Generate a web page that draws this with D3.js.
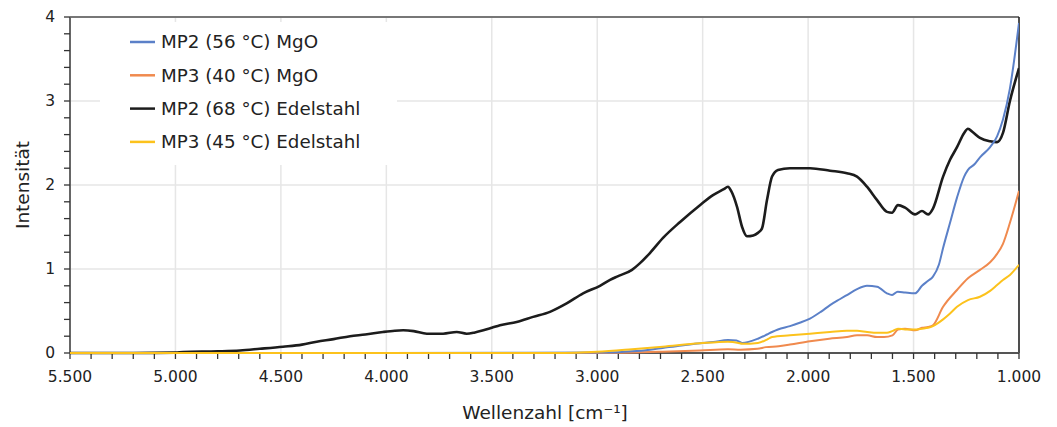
<!DOCTYPE html>
<html>
<head>
<meta charset="utf-8">
<script src="https://cdn.jsdelivr.net/npm/d3@7"></script>
<style>
  html, body { margin: 0; padding: 0; background: #fff; }
  svg { display: block; font-family: "DejaVu Sans", "Noto Sans", sans-serif; }
</style>
</head>
<body>
<svg id="chart" width="1057" height="427"></svg>
<script>
// Wavenumber grids (cm^-1) and intensities for each spectrum
const wnMgO56 = [5500, 4000, 3000, 2900, 2835, 2750, 2690, 2600, 2510, 2450, 2380, 2340, 2313, 2238, 2195, 2171, 2143, 2086, 2040, 1991, 1940, 1896, 1850, 1816, 1768, 1721, 1673, 1626, 1602, 1575, 1540, 1493, 1460, 1431, 1408, 1380, 1360, 1327, 1294, 1260, 1242, 1210, 1185, 1137, 1104, 1076, 1043, 1000];
const valMgO56 = [0, 0, 0.005, 0.01, 0.02, 0.04, 0.06, 0.09, 0.115, 0.13, 0.155, 0.15, 0.12, 0.17, 0.22, 0.25, 0.28, 0.32, 0.36, 0.41, 0.49, 0.57, 0.64, 0.69, 0.76, 0.80, 0.79, 0.71, 0.69, 0.73, 0.72, 0.71, 0.80, 0.86, 0.91, 1.05, 1.25, 1.55, 1.85, 2.10, 2.18, 2.25, 2.33, 2.45, 2.58, 2.78, 3.15, 3.93];

const wnMgO40 = [5500, 3000, 2835, 2690, 2513, 2380, 2320, 2240, 2200, 2140, 2086, 1991, 1900, 1816, 1768, 1720, 1673, 1640, 1600, 1574, 1540, 1493, 1460, 1431, 1408, 1360, 1294, 1242, 1185, 1137, 1104, 1076, 1043, 1000];
const valMgO40 = [0, 0, 0.005, 0.015, 0.03, 0.045, 0.04, 0.05, 0.07, 0.08, 0.10, 0.14, 0.17, 0.19, 0.21, 0.21, 0.19, 0.19, 0.21, 0.28, 0.29, 0.27, 0.30, 0.31, 0.33, 0.55, 0.75, 0.89, 0.99, 1.08, 1.18, 1.30, 1.55, 1.93];

const wnSteel68 = [5500, 5200, 5000, 4964, 4800, 4694, 4600, 4490, 4400, 4330, 4250, 4172, 4100, 4016, 3960, 3920, 3870, 3808, 3731, 3666, 3619, 3580, 3540, 3500, 3461, 3382, 3304, 3224, 3145, 3067, 2987, 2939, 2906, 2835, 2797, 2750, 2688, 2607, 2513, 2451, 2400, 2380, 2365, 2337, 2313, 2290, 2260, 2238, 2219, 2195, 2171, 2143, 2086, 1991, 1896, 1816, 1768, 1721, 1673, 1626, 1602, 1574, 1540, 1493, 1460, 1431, 1408, 1360, 1327, 1294, 1260, 1242, 1220, 1185, 1137, 1104, 1076, 1043, 1000];
const valSteel68 = [0, 0, 0.005, 0.012, 0.02, 0.03, 0.05, 0.075, 0.10, 0.135, 0.165, 0.20, 0.22, 0.25, 0.265, 0.27, 0.26, 0.23, 0.23, 0.25, 0.23, 0.245, 0.27, 0.30, 0.33, 0.37, 0.43, 0.49, 0.59, 0.71, 0.80, 0.87, 0.91, 0.99, 1.07, 1.19, 1.37, 1.56, 1.76, 1.88, 1.95, 1.98, 1.93, 1.74, 1.50, 1.39, 1.40, 1.43, 1.48, 1.82, 2.10, 2.18, 2.20, 2.20, 2.17, 2.14, 2.10, 1.98, 1.82, 1.68, 1.67, 1.76, 1.73, 1.65, 1.69, 1.65, 1.72, 2.10, 2.30, 2.45, 2.62, 2.67, 2.63, 2.56, 2.52, 2.51, 2.62, 3.00, 3.39];

const wnSteel45 = [5500, 3200, 3000, 2835, 2690, 2513, 2380, 2330, 2313, 2238, 2195, 2171, 2086, 1991, 1896, 1816, 1768, 1720, 1673, 1626, 1602, 1574, 1540, 1493, 1460, 1431, 1408, 1360, 1327, 1294, 1242, 1185, 1137, 1104, 1076, 1043, 1000];
const valSteel45 = [0, 0, 0.015, 0.045, 0.075, 0.115, 0.135, 0.12, 0.11, 0.12, 0.16, 0.19, 0.21, 0.23, 0.25, 0.265, 0.265, 0.25, 0.24, 0.24, 0.26, 0.29, 0.28, 0.28, 0.29, 0.30, 0.32, 0.40, 0.47, 0.55, 0.63, 0.67, 0.74, 0.81, 0.87, 0.93, 1.05];

const seriesNames = ["MP2 (56 °C) MgO", "MP3 (40 °C) MgO", "MP2 (68 °C) Edelstahl", "MP3 (45 °C) Edelstahl"];
const seriesColors = ["#5b80c8", "#f08a4e", "#1c1c1c", "#fcc21c"];

const xTickValues = [5500, 5000, 4500, 4000, 3500, 3000, 2500, 2000, 1500, 1000];
const yTickValues = [0, 1, 2, 3, 4];

const xTitle = "Wellenzahl [cm⁻¹]";
const yTitle = "Intensität";

// Series assembled from the arrays above
const series = [
  { name: seriesNames[0], color: seriesColors[0], wn: wnMgO56, val: valMgO56, width: 2 },
  { name: seriesNames[1], color: seriesColors[1], wn: wnMgO40, val: valMgO40, width: 2 },
  { name: seriesNames[2], color: seriesColors[2], wn: wnSteel68, val: valSteel68, width: 2.6 },
  { name: seriesNames[3], color: seriesColors[3], wn: wnSteel45, val: valSteel45, width: 2 }
];

const svg = d3.select("#chart");
const margin = { left: 70, right: 38, top: 17, bottom: 74 };
const W = 1057, H = 427;
const x = d3.scaleLinear().domain([5500, 1000]).range([margin.left, W - margin.right]);
const y = d3.scaleLinear().domain([0, 4]).range([H - margin.bottom, margin.top]);

const fmt = d3.formatLocale({ decimal: ",", thousands: ".", grouping: [3], currency: ["", "€"] }).format(",.0f");

// Grid lines
const grid = svg.append("g").attr("class", "grid");
grid.selectAll("line.gx").data(xTickValues.slice(1, -1)).join("line")
  .attr("x1", d => x(d)).attr("x2", d => x(d))
  .attr("y1", y(4)).attr("y2", y(0))
  .attr("stroke", "#e6e6e6").attr("stroke-width", 1.5);
grid.selectAll("line.gy").data(yTickValues.slice(1, -1)).join("line")
  .attr("x1", x(5500)).attr("x2", x(1000))
  .attr("y1", d => y(d)).attr("y2", d => y(d))
  .attr("stroke", "#e6e6e6").attr("stroke-width", 1.5);

// Legend background masks the grid underneath
svg.append("rect").attr("x", 100).attr("y", 22).attr("width", 297).attr("height", 143).attr("fill", "#fff");

// Frame: top and right borders
svg.append("line").attr("x1", x(5500)).attr("x2", x(1000)).attr("y1", y(4)).attr("y2", y(4))
  .attr("stroke", "#777").attr("stroke-width", 2);
svg.append("line").attr("x1", x(1000)).attr("x2", x(1000)).attr("y1", y(4)).attr("y2", y(0))
  .attr("stroke", "#222").attr("stroke-width", 1.6);

// X axis with minor ticks every 100
const xMinor = d3.range(5500, 999, -100);
const xAxisG = svg.append("g").attr("transform", `translate(0,${y(0)})`);
xAxisG.append("line").attr("x1", x(5500)).attr("x2", x(1000)).attr("stroke", "#555").attr("stroke-width", 2);
xAxisG.selectAll("line.tick").data(xMinor).join("line")
  .attr("x1", d => x(d)).attr("x2", d => x(d)).attr("y1", 0).attr("y2", 6)
  .attr("stroke", "#333").attr("stroke-width", 1.3);
xAxisG.selectAll("text").data(xTickValues).join("text")
  .attr("x", d => x(d)).attr("y", 29)
  .attr("text-anchor", "middle")
  .attr("font-size", 15.5).attr("fill", "#222")
  .text(d => fmt(d));

// Y axis with minor ticks every 0.2
const yMinor = d3.range(0, 4.001, 0.2);
const yAxisG = svg.append("g").attr("transform", `translate(${x(5500)},0)`);
yAxisG.append("line").attr("y1", y(0)).attr("y2", y(4)).attr("stroke", "#666").attr("stroke-width", 2);
yAxisG.selectAll("line.tick").data(yMinor).join("line")
  .attr("x1", -6).attr("x2", 0).attr("y1", d => y(d)).attr("y2", d => y(d))
  .attr("stroke", "#333").attr("stroke-width", 1.3);
yAxisG.selectAll("text").data(yTickValues).join("text")
  .attr("x", -15).attr("y", d => y(d)).attr("dy", "0.35em")
  .attr("text-anchor", "end")
  .attr("font-size", 15.5).attr("fill", "#222")
  .text(d => d);

// Spectra, drawn over the axes
const line = d3.line().x(d => x(d[0])).y(d => y(d[1])).curve(d3.curveMonotoneX);
const plot = svg.append("g");
plot.append("defs").append("clipPath").attr("id", "clip")
  .append("rect").attr("x", x(5500)).attr("y", y(4) - 2).attr("width", x(1000) - x(5500)).attr("height", y(0) - y(4) + 4);
const order = [2, 1, 0, 3];
order.forEach(i => {
  const s = series[i];
  const pts = s.wn.map((w, k) => [w, s.val[k]]).sort((a, b) => a[0] - b[0]);
  plot.append("path").datum(pts)
    .attr("d", line)
    .attr("fill", "none")
    .attr("stroke", s.color)
    .attr("stroke-width", s.width)
    .attr("stroke-linejoin", "round")
    .attr("clip-path", "url(#clip)");
});

// Axis titles
svg.append("text").attr("x", 545).attr("y", 419).attr("text-anchor", "middle")
  .attr("font-size", 18.5).attr("fill", "#222").text(xTitle);
svg.append("text").attr("transform", `translate(29,185) rotate(-90)`).attr("text-anchor", "middle")
  .attr("font-size", 18.5).attr("fill", "#222").text(yTitle);

// Legend
const legend = svg.append("g");
series.forEach((s, i) => {
  const cy = 42 + i * 33.3;
  legend.append("line").attr("x1", 130).attr("x2", 155).attr("y1", cy).attr("y2", cy)
    .attr("stroke", s.color).attr("stroke-width", 2.5);
  legend.append("text").attr("x", 161).attr("y", cy).attr("dy", "0.35em")
    .attr("font-size", 18.3).attr("fill", "#222").text(s.name);
});
</script>
</body>
</html>
